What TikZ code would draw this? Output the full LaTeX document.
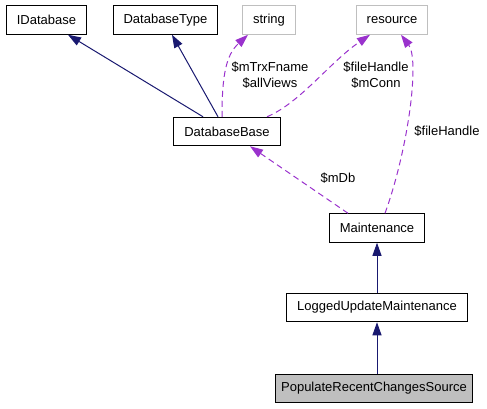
\documentclass[tikz,border=0pt]{standalone}
\usepackage{fontspec}
\setmainfont{Liberation Sans}
\usetikzlibrary{arrows.meta}
\definecolor{edgeblue}{HTML}{191970}
\definecolor{edgepurple}{HTML}{9A32CD}
\definecolor{boxgray}{HTML}{BFBFBF}

\tikzset{
  cls/.style={draw=black, line width=1pt, fill=white, minimum height=28.5pt,
    inner xsep=10.5pt, inner ysep=0pt, font=\fontsize{13}{16}\selectfont},
  extcls/.style={cls, draw=boxgray},
  curcls/.style={cls, fill=boxgray, inner xsep=5.5pt},
  inherit/.style={draw=edgeblue, line width=1pt, -{Triangle[length=13pt,width=9pt]}},
  usage/.style={draw=edgepurple, line width=1pt, dash pattern=on 6pt off 4pt,
    -{Triangle[length=13pt,width=9pt]}},
  lbl/.style={align=center, font=\fontsize{13}{16}\selectfont, inner sep=0pt},
}

\begin{document}
\begin{tikzpicture}[x=1pt, y=-1pt]
    \useasboundingbox (0,0) rectangle (487,408);

    % Klassen oben
    \node[cls] (idb) at (46.5,20) {IDatabase};
    \node[cls] (dbtype) at (165.5,20) {DatabaseType};
    \node[extcls] (str) at (269,20) {string};
    \node[extcls] (res) at (392,20) {resource};

    % Mitte
    \node[cls] (dbbase) at (227,131.5) {DatabaseBase};
    \node[cls] (maint) at (377,228) {Maintenance};

    % unten
    \node[cls] (logged) at (377,307.5) {LoggedUpdateMaintenance};
    \node[curcls] (populate) at (374,388.5) {PopulateRecentChangesSource};

    % Vererbung
    \draw[inherit] ([xshift=-24pt]dbbase.north) -- ([xshift=21.5pt]idb.south);
    \draw[inherit] ([xshift=-9pt]dbbase.north) -- ([xshift=6.5pt]dbtype.south);
    \draw[inherit] (logged) -- (maint);
    \draw[inherit] (populate.north -| logged.south) -- (logged.south);

    % Benutzung
    \draw[usage] ([xshift=-5pt]dbbase.north) .. controls (222,75) and (226,55) .. ([xshift=-21pt]str.south);
    \node[lbl] (lblstr) at (270,75) {\$mTrxFname\\\$allViews};

    \draw[usage] ([xshift=40pt]dbbase.north) .. controls (300,103) and (330,62) .. ([xshift=-22pt]res.south);
    \node[lbl] (lblres) at (376,75) {\$fileHandle\\\$mConn};

    \draw[usage] ([xshift=8pt]maint.north) .. controls (408,150) and (420,60) .. ([xshift=9pt]res.south);
    \node[lbl] (lblfh) at (447,131) {\$fileHandle};

    \draw[usage] ([xshift=-29pt]maint.north) -- ([xshift=23pt]dbbase.south);
    \node[lbl] (lbldb) at (338,178) {\$mDb};
\end{tikzpicture}
\end{document}
